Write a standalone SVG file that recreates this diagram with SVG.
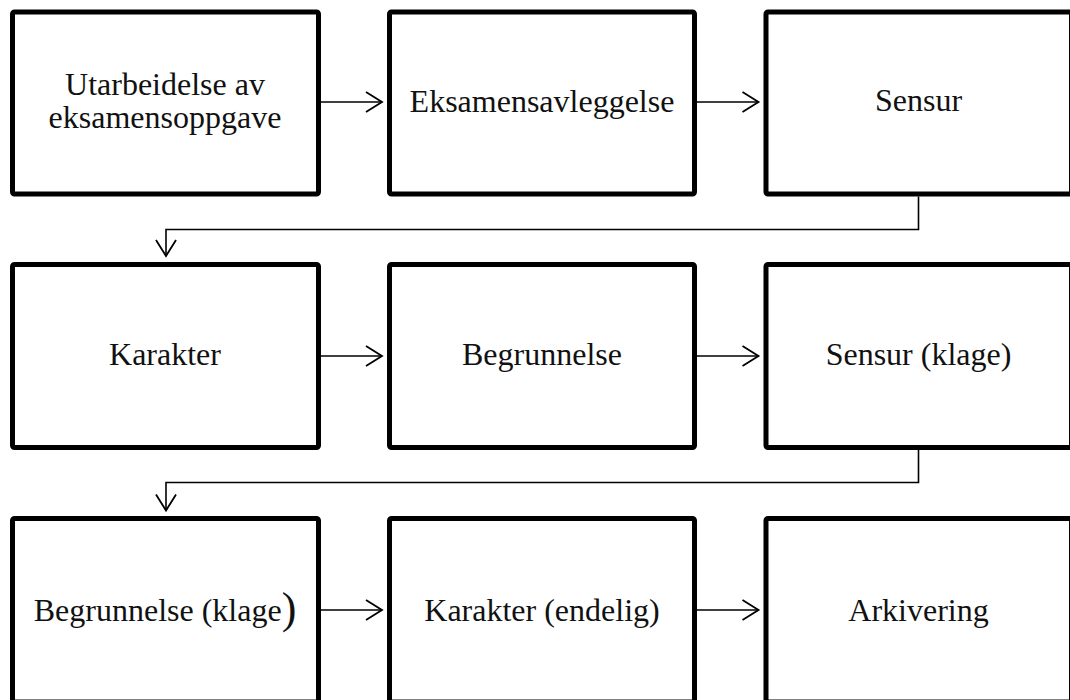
<svg xmlns="http://www.w3.org/2000/svg" width="1070" height="700" viewBox="0 0 1070 700">
  <style>
    .box { fill: #ffffff; stroke: #000000; stroke-width: 5; }
    .lbl { font-family: "Liberation Serif", "Times New Roman", serif; font-size: 32px; fill: #111111; text-anchor: middle; }
    .conn { fill: none; stroke: #000000; stroke-width: 1.6; }
  </style>
  <defs>
    <marker id="arr" markerUnits="userSpaceOnUse" viewBox="-20 -13 23 26" markerWidth="23" markerHeight="26" refX="0" refY="0" orient="auto">
      <path d="M-16,-10 L0,0 L-16,10" fill="none" stroke="#000000" stroke-width="1.8"/>
    </marker>
  </defs>
  <rect width="1070" height="700" fill="#ffffff"/>

  <g id="n1">
    <rect class="box" x="12.5" y="12" width="306" height="182" rx="2"/>
    <text class="lbl" x="165" y="95">Utarbeidelse av</text>
    <text class="lbl" x="165" y="128">eksamensoppgave</text>
  </g>
  <g id="n2">
    <rect class="box" x="389.5" y="12" width="305" height="182" rx="2"/>
    <text class="lbl" x="542" y="111.5">Eksamensavleggelse</text>
  </g>
  <g id="n3">
    <rect class="box" x="766" y="12" width="305.5" height="182" rx="2"/>
    <text class="lbl" x="918.5" y="111">Sensur</text>
  </g>

  <g id="n4">
    <rect class="box" x="12.5" y="264.5" width="306" height="183" rx="2"/>
    <text class="lbl" x="165" y="364.5">Karakter</text>
  </g>
  <g id="n5">
    <rect class="box" x="389.5" y="264.5" width="305" height="183" rx="2"/>
    <text class="lbl" x="542" y="364.5">Begrunnelse</text>
  </g>
  <g id="n6">
    <rect class="box" x="766" y="264.5" width="305.5" height="183" rx="2"/>
    <text class="lbl" x="918.5" y="364.5">Sensur (klage)</text>
  </g>

  <g id="n7">
    <rect class="box" x="12.5" y="518.5" width="306" height="183.5" rx="2"/>
    <text class="lbl" x="165" y="621">Begrunnelse (klage<tspan font-size="44" dy="2">)</tspan></text>
  </g>
  <g id="n8">
    <rect class="box" x="389.5" y="518.5" width="305" height="183.5" rx="2"/>
    <text class="lbl" x="542" y="621">Karakter (endelig)</text>
  </g>
  <g id="n9">
    <rect class="box" x="766" y="518.5" width="305.5" height="183.5" rx="2"/>
    <text class="lbl" x="918.5" y="621">Arkivering</text>
  </g>

  <g id="connectors">
    <path class="conn" d="M321,102 H382" marker-end="url(#arr)"/>
    <path class="conn" d="M697,102 H758.5" marker-end="url(#arr)"/>
    <path class="conn" d="M918.5,196.5 V229.5 H166 V256" marker-end="url(#arr)"/>
    <path class="conn" d="M321,356 H382" marker-end="url(#arr)"/>
    <path class="conn" d="M697,356 H758.5" marker-end="url(#arr)"/>
    <path class="conn" d="M918.5,450 V482.5 H166 V510.5" marker-end="url(#arr)"/>
    <path class="conn" d="M321,610 H382" marker-end="url(#arr)"/>
    <path class="conn" d="M697,610 H758.5" marker-end="url(#arr)"/>
  </g>
</svg>
